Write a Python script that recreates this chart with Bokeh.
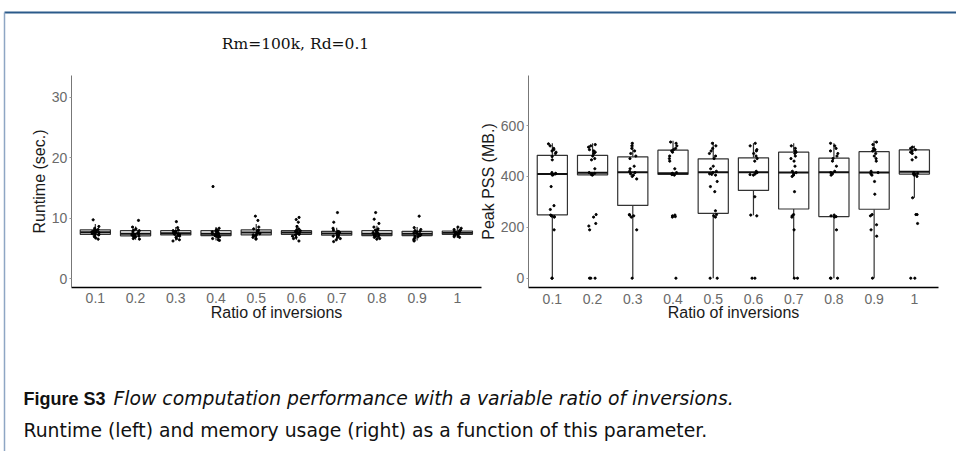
from bokeh.plotting import figure
from bokeh.models import Range1d, LinearAxis, FixedTicker, ColumnDataSource
from bokeh.transform import jitter
from bokeh.core.properties import value
from bokeh.embed import file_html
from bokeh.resources import INLINE

# ---------------- data ----------------
ratio_labels = ["0.1", "0.2", "0.3", "0.4", "0.5", "0.6", "0.7", "0.8", "0.9", "1"]
positions = [1, 2, 3, 4, 5, 6, 7, 8, 9, 10]

# Runtime (sec.) box statistics
rt_q1 = [7.30, 7.05, 7.20, 7.10, 7.20, 7.30, 7.15, 7.10, 7.10, 7.30]
rt_med = [7.65, 7.40, 7.50, 7.40, 7.60, 7.60, 7.45, 7.40, 7.40, 7.55]
rt_q3 = [8.05, 7.90, 7.90, 7.90, 8.05, 7.90, 7.80, 7.90, 7.80, 7.85]
rt_lo = [6.5, 6.4, 6.3, 6.3, 6.5, 6.4, 6.3, 6.4, 6.3, 6.7]
rt_hi = [9.0, 8.6, 8.5, 8.5, 9.0, 8.8, 8.4, 8.7, 8.5, 8.4]
rt_points = [
    [9.7, 8.6, 8.3, 8.1, 8.0, 7.9, 7.8, 7.8, 7.7, 7.7, 7.6, 7.6, 7.5, 7.5, 7.4, 7.4, 7.3, 7.2, 7.1, 6.9, 6.7, 6.5],
    [9.6, 8.5, 8.2, 8.0, 7.9, 7.7, 7.6, 7.5, 7.4, 7.4, 7.3, 7.2, 7.1, 7.0, 7.0, 6.9, 6.8, 6.6, 6.5],
    [9.4, 8.4, 8.0, 7.9, 7.8, 7.7, 7.6, 7.5, 7.5, 7.4, 7.3, 7.3, 7.2, 7.1, 7.0, 6.8, 6.6, 6.4, 6.2],
    [15.2, 8.3, 8.1, 7.9, 7.8, 7.7, 7.6, 7.5, 7.4, 7.4, 7.3, 7.2, 7.1, 7.0, 6.9, 6.8, 6.6, 6.4, 6.3],
    [10.3, 9.6, 8.5, 8.2, 8.0, 7.9, 7.8, 7.7, 7.6, 7.6, 7.5, 7.4, 7.3, 7.2, 7.1, 7.0, 6.8, 6.6, 6.5],
    [10.1, 9.75, 9.3, 8.6, 8.2, 8.0, 7.9, 7.8, 7.7, 7.6, 7.6, 7.5, 7.4, 7.3, 7.2, 7.0, 6.8, 6.6, 6.2],
    [10.9, 9.3, 8.3, 8.0, 7.8, 7.7, 7.6, 7.5, 7.4, 7.4, 7.3, 7.2, 7.1, 7.0, 6.9, 6.8, 6.6, 6.4, 6.1],
    [10.9, 9.8, 9.1, 8.5, 8.2, 8.0, 7.9, 7.7, 7.6, 7.5, 7.4, 7.3, 7.2, 7.1, 7.0, 6.9, 6.8, 6.6, 6.5],
    [10.3, 8.4, 8.1, 7.9, 7.8, 7.7, 7.6, 7.5, 7.4, 7.3, 7.3, 7.2, 7.1, 7.0, 6.9, 6.7, 6.5, 6.3, 6.2],
    [8.5, 8.3, 8.1, 8.0, 7.9, 7.8, 7.7, 7.6, 7.6, 7.5, 7.5, 7.4, 7.3, 7.2, 7.1, 7.0, 6.9, 6.8],
]

# Peak PSS (MB.) box statistics
mem_q1 = [249, 406, 286, 408, 255, 345, 272, 242, 271, 409]
mem_med = [409, 414, 416, 412, 416, 416, 415, 416, 415, 418]
mem_q3 = [483, 483, 477, 503, 469, 473, 495, 472, 497, 504]
mem_lo = [0, 406, 0, 408, 0, 247, 0, 0, 0, 316]
mem_hi = [530, 530, 535, 540, 535, 530, 530, 530, 540, 520]
mem_points = [
    [0, 0, 190, 240, 242, 245, 245, 248, 270, 285, 360, 405, 407, 410, 412, 415, 465, 478, 490, 495, 500, 505, 510, 520, 528],
    [0, 0, 0, 190, 205, 215, 240, 250, 405, 407, 410, 412, 415, 430, 465, 470, 480, 490, 495, 500, 505, 515, 520, 525],
    [0, 190, 240, 245, 248, 250, 390, 400, 405, 410, 415, 420, 430, 440, 470, 480, 490, 500, 510, 520, 530],
    [0, 240, 242, 245, 248, 405, 407, 410, 412, 415, 430, 460, 470, 480, 495, 500, 505, 510, 520, 530, 535],
    [0, 0, 240, 245, 250, 265, 340, 360, 380, 405, 408, 410, 415, 420, 430, 440, 470, 480, 490, 500, 510, 520, 530],
    [0, 0, 245, 248, 320, 405, 407, 410, 415, 420, 460, 470, 480, 490, 500, 505, 520, 530],
    [0, 0, 190, 240, 245, 250, 340, 400, 405, 410, 415, 420, 440, 460, 470, 480, 490, 495, 500, 510, 520],
    [0, 0, 0, 190, 240, 242, 245, 248, 405, 410, 415, 420, 440, 460, 470, 480, 490, 500, 510, 520, 530],
    [0, 165, 190, 210, 245, 250, 330, 380, 405, 410, 415, 420, 460, 470, 480, 490, 500, 505, 510, 525, 535],
    [0, 0, 215, 250, 250, 316, 400, 405, 408, 410, 412, 415, 465, 475, 490, 495, 500, 505, 510, 515],
]

rt_ticks = [0, 10, 20, 30]
mem_ticks = [0, 200, 400, 600]

title_text = "Rm=100k, Rd=0.1"
x_title = "Ratio of inversions"
rt_title = "Runtime (sec.)"
mem_title = "Peak PSS (MB.)"
cap_bold = "Figure S3"
cap_italic = "Flow computation performance with a variable ratio of inversions."
cap_line2 = "Runtime (left) and memory usage (right) as a function of this parameter."

# ---------------- layout ----------------
W, H = 956, 451
SANS = "Liberation Sans"
CAP = "DejaVu Sans"


def xr_for(v0, p0, v1, p1):
    k = (v1 - v0) / (p1 - p0)
    return Range1d(v0 - p0 * k, v0 + (W - p0) * k)


def yr_for(v0, p0, v1, p1):
    k = (v1 - v0) / (p1 - p0)
    return Range1d(v0 + (H - p0) * k, v0 - p0 * k)


p = figure(width=W, height=H, x_range=Range1d(0, W), y_range=Range1d(H, 0),
           output_backend="svg", toolbar_location=None,
           x_axis_type=None, y_axis_type=None, min_border=0,
           outline_line_color=None, background_fill_color="white",
           border_fill_color="white")

p.extra_x_ranges = {"lx": xr_for(0.4, 70.7, 10.6, 481.0),
                    "rx": xr_for(0.4, 527.7, 10.6, 938.0)}
p.extra_y_ranges = {"ly": yr_for(0, 278.0, 30, 96.5),
                    "ry": yr_for(0, 277.7, 600, 125.0)}

# page frame
p.segment(x0=[4], y0=[12], x1=[W], y1=[12], line_color="#2b5a8a", line_width=2)
p.segment(x0=[4], y0=[12], x1=[4], y1=[H], line_color="#8ea6c4", line_width=1.5)


def draw_boxes(xr, yr, q1, med, q3, lo, hi, pts):
    kw = dict(x_range_name=xr, y_range_name=yr)
    p.segment(x0=positions, y0=q3, x1=positions, y1=hi, line_color="#333333", line_width=1.2, **kw)
    p.segment(x0=positions, y0=q1, x1=positions, y1=lo, line_color="#333333", line_width=1.2, **kw)
    p.vbar(x=positions, bottom=q1, top=q3, width=0.75, fill_color="white",
           line_color="#333333", line_width=1.2, **kw)
    p.rect(x=positions, y=med, width=0.75, height=2, height_units="screen",
           fill_color="#111111", line_color=None, **kw)
    xs, ys = [], []
    for pos, vals in zip(positions, pts):
        xs += [pos] * len(vals)
        ys += vals
    src = ColumnDataSource(dict(x=xs, y=ys))
    p.scatter(x=jitter("x", 0.2, distribution="uniform"), y="y", source=src,
              size=2.2, fill_color="black", line_color="black", **kw)


draw_boxes("lx", "ly", rt_q1, rt_med, rt_q3, rt_lo, rt_hi, rt_points)
draw_boxes("rx", "ry", mem_q1, mem_med, mem_q3, mem_lo, mem_hi, mem_points)


def add_axes(xr, yr, xb, yb, yticks, ylabel):
    xa = LinearAxis(x_range_name=xr, y_range_name=yr, fixed_location=yb[0], bounds=xb,
                    ticker=FixedTicker(ticks=positions),
                    major_label_overrides={k: v for k, v in zip(positions, ratio_labels)},
                    axis_label=x_title)
    ya = LinearAxis(x_range_name=xr, y_range_name=yr, fixed_location=xb[0], bounds=yb,
                    ticker=FixedTicker(ticks=yticks), axis_label=ylabel)
    for ax in (xa, ya):
        ax.major_label_text_font = SANS
        ax.major_label_text_font_size = "14px"
        ax.major_label_text_color = "#6a6a6a"
        ax.axis_label_text_font = SANS
        ax.axis_label_text_font_size = "16px"
        ax.axis_label_text_font_style = "normal"
        ax.axis_label_text_color = "#1a1a1a"
        ax.minor_tick_line_color = None
    xa.axis_line_color = "black"
    xa.axis_line_width = 1.5
    xa.major_tick_line_color = None
    xa.major_label_standoff = 0
    xa.axis_label_standoff = -3
    ya.axis_line_color = "#777777"
    ya.axis_line_width = 1
    ya.major_tick_line_color = "#999999"
    ya.major_tick_out = 2
    ya.major_tick_in = 0
    ya.major_label_standoff = 2
    ya.axis_label_standoff = 1
    p.add_layout(xa, "below")
    p.add_layout(ya, "left")


add_axes("lx", "ly", (0.4, 10.6), (-1.44, 33.5), rt_ticks, rt_title)
add_axes("rx", "ry", (0.4, 10.6), (-36.6, 796.0), mem_ticks, mem_title)

# title and caption
p.text(x=[295], y=[43], text=[title_text], text_font=value("DejaVu Serif"),
       text_font_size="15.5px", text_align="center", text_baseline="middle", text_color="#111111")
p.text(x=[23], y=[398], text=[cap_bold], text_font=value("Liberation Sans"), text_font_style="bold",
       text_font_size="18px", text_align="left", text_baseline="middle", text_color="#111111")
p.text(x=[113], y=[398], text=[cap_italic], text_font=value(CAP), text_font_style="italic",
       text_font_size="18.8px", text_align="left", text_baseline="middle", text_color="#111111")
p.text(x=[23], y=[430], text=[cap_line2], text_font=value(CAP),
       text_font_size="18.8px", text_align="left", text_baseline="middle", text_color="#111111")

open("out.html", "w").write(file_html(p, INLINE))
